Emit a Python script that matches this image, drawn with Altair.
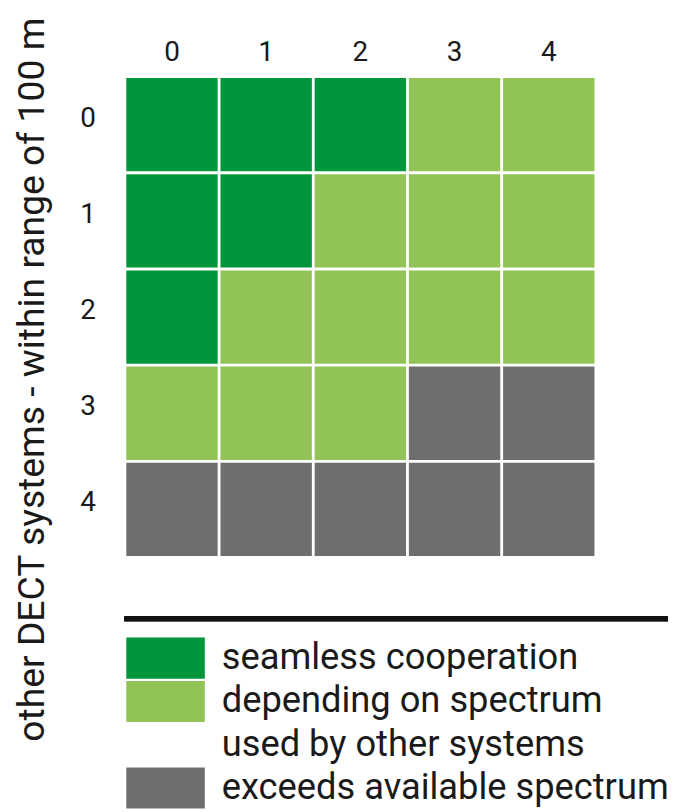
import altair as alt
import pandas as pd

cols = ["0", "1", "2", "3", "4"]
rows = ["0", "1", "2", "3", "4"]
categories = ["seamless cooperation",
              "depending on spectrum used by other systems",
              "exceeds available spectrum"]
colors = ["#00963c", "#92c356", "#6e6e6e"]
# status code per row (y) and column (x): 0 seamless, 1 depending, 2 exceeds
status = [
    [0, 0, 0, 1, 1],
    [0, 0, 1, 1, 1],
    [0, 1, 1, 1, 1],
    [1, 1, 1, 2, 2],
    [2, 2, 2, 2, 2],
]
legend_lines = ["seamless cooperation", "depending on spectrum",
                "used by other systems", "exceeds available spectrum"]
legend_swatch = [0, 1, None, 2]
y_title = "other DECT systems - within range of 100 m"

FONT = "Roboto"
TXT = "#1a1a1a"

recs = []
for i, r in enumerate(rows):
    for j, c in enumerate(cols):
        recs.append({"col": c, "row": r, "status": categories[status[i][j]]})
df = pd.DataFrame(recs)

color_scale = alt.Scale(domain=categories, range=colors)

heat = alt.Chart(df).mark_rect().encode(
    x=alt.X("col:O", sort=cols,
            scale=alt.Scale(paddingInner=0.03, paddingOuter=0),
            axis=alt.Axis(orient="top", title=None, ticks=False, domain=False,
                          labelAngle=0, labelFontSize=28, labelPadding=12,
                          labelFont=FONT, labelColor=TXT)),
    y=alt.Y("row:O", sort=rows,
            scale=alt.Scale(paddingInner=0.03, paddingOuter=0),
            axis=alt.Axis(title=y_title, ticks=False, domain=False,
                          labelFontSize=28, labelPadding=31, labelOffset=-6,
                          labelFont=FONT, labelColor=TXT,
                          titleFont=FONT, titleFontSize=37.5, titleFontWeight="normal",
                          titleColor=TXT, titleX=-83, titleY=303,
                          titleBaseline="alphabetic")),
    color=alt.Color("status:N", scale=color_scale, legend=None),
).properties(width=471, height=481)

leg_df = pd.DataFrame({
    "idx": list(range(len(legend_lines))),
    "label": legend_lines,
    "status": [categories[s] if s is not None else None for s in legend_swatch],
})

LEG_W = 545


def yleg():
    return alt.Y("idx:O", axis=None,
                 scale=alt.Scale(range=[22, 194], paddingInner=0.05, paddingOuter=0))


rule = alt.Chart(leg_df).mark_rule(color="#111111", strokeWidth=5).encode(
    x=alt.value(-2), x2=alt.value(LEG_W), y=alt.value(3))

swatches = alt.Chart(leg_df).transform_filter(
    "datum.status != null"
).mark_rect().encode(
    x=alt.value(0), x2=alt.value(79), y=yleg(),
    color=alt.Color("status:N", scale=color_scale, legend=None),
)

texts = alt.Chart(leg_df).mark_text(
    align="left", baseline="middle", font=FONT, fontSize=36.5, color=TXT
).encode(x=alt.value(96), y=yleg(), text="label:N")

legend = alt.layer(rule, swatches, texts).properties(width=LEG_W, height=194)

chart = alt.vconcat(heat, legend, spacing=60, bounds="flush").configure_view(
    stroke=None).resolve_scale(color="shared").properties(
    padding={"left": 6, "top": 6, "right": 0, "bottom": 0})

chart.save("out.html", embed_options={"renderer": "svg", "actions": False})
